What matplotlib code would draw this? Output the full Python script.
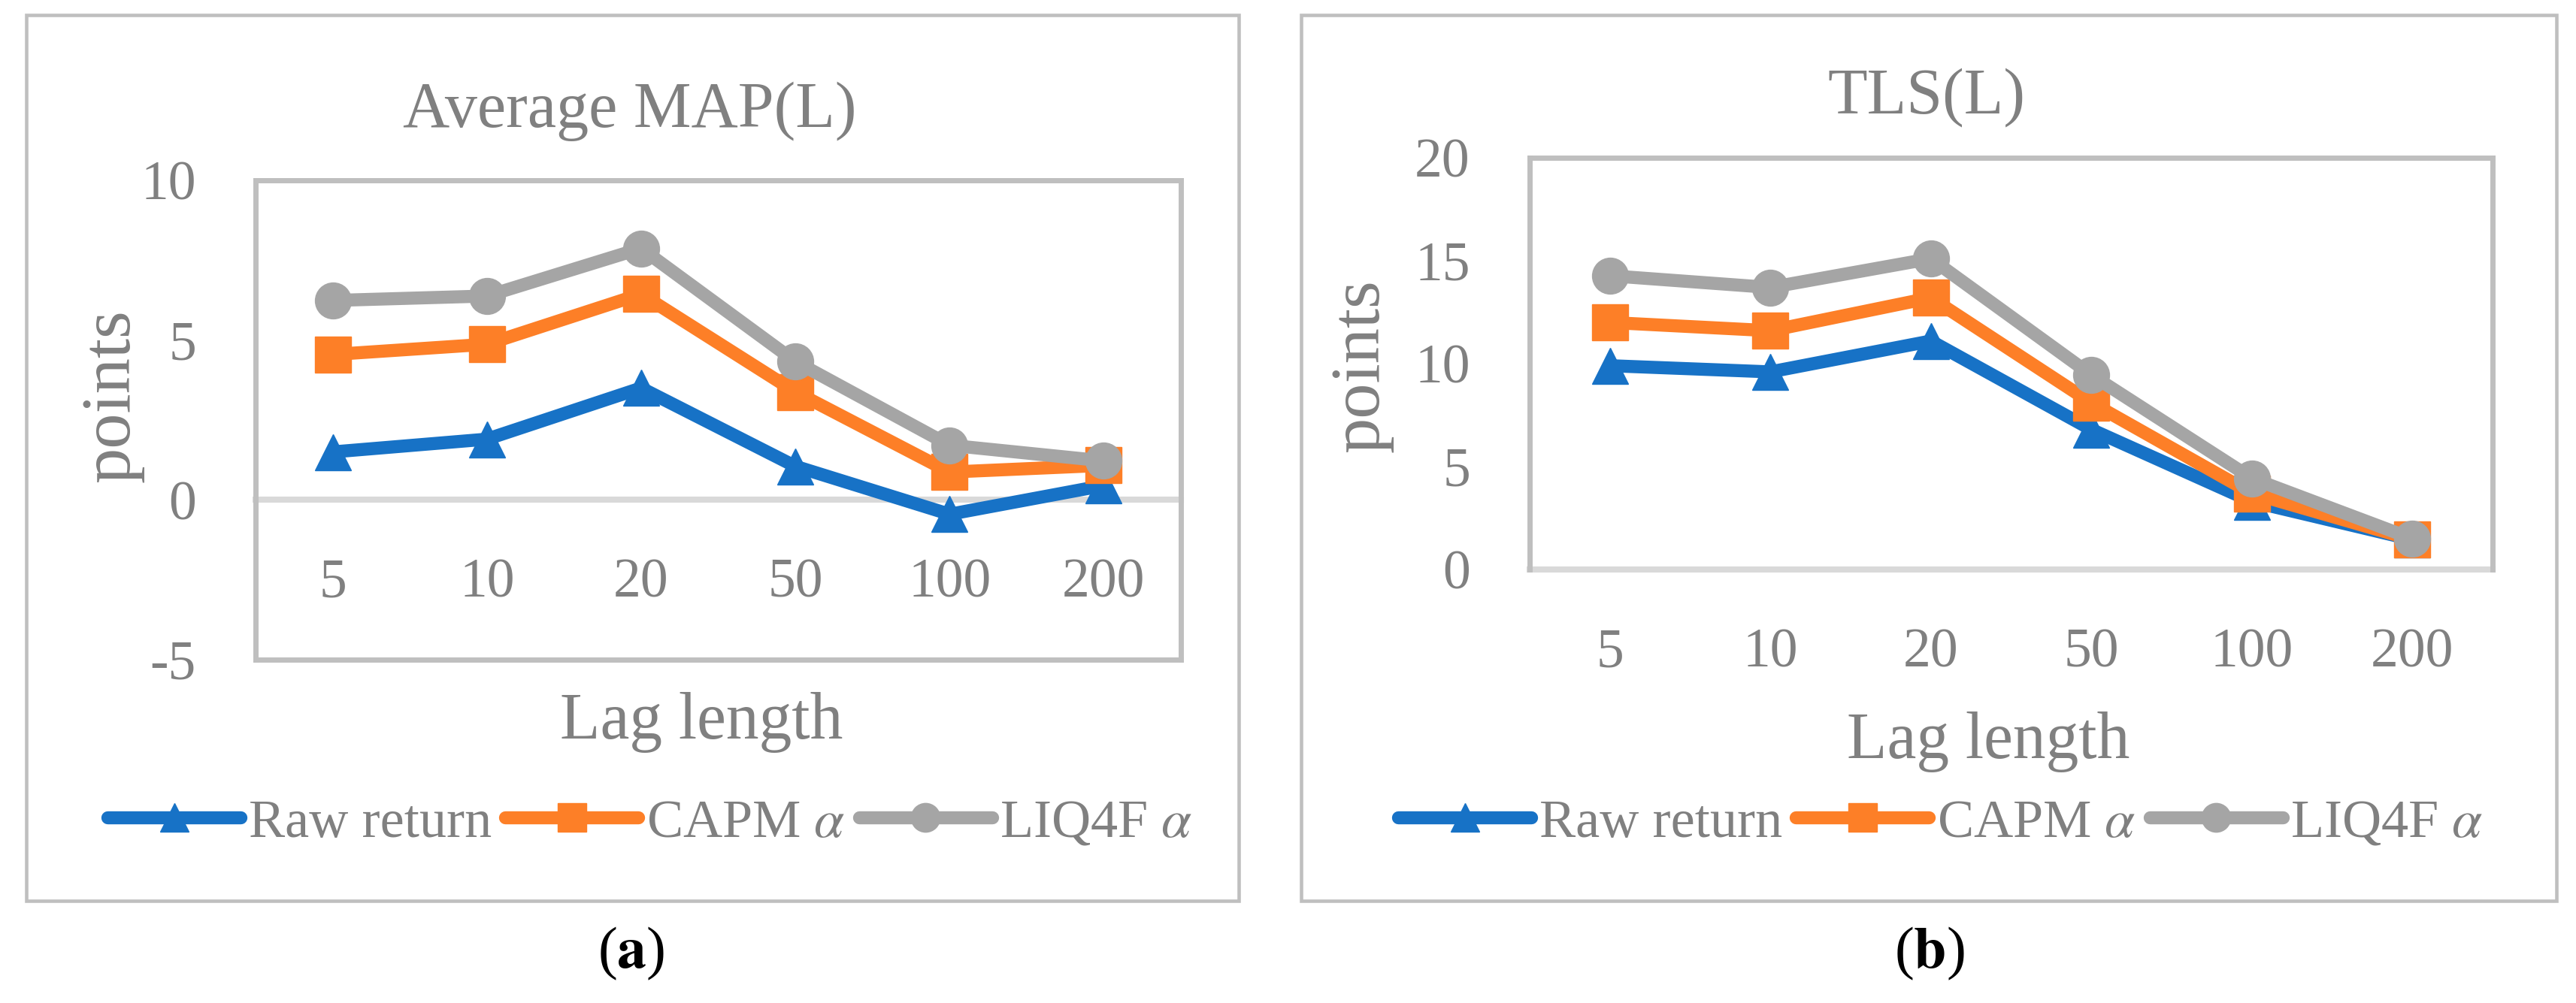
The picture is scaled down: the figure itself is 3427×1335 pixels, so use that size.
import matplotlib
matplotlib.use('Agg')
import matplotlib.pyplot as plt
from matplotlib.patches import Rectangle

lags = ['5', '10', '20', '50', '100', '200']
series_names = ['Raw return', r'CAPM $\alpha$', r'LIQ4F $\alpha$']
series_colors = ['#1772C6', '#FD7F27', '#A5A5A5']
series_markers = ['^', 's', 'o']

# panel (a): Average MAP(L)
map_raw = [1.5, 1.9, 3.5, 1.05, -0.45, 0.45]
map_capm = [4.55, 4.87, 6.44, 3.38, 0.87, 1.08]
map_liq4f = [6.24, 6.38, 7.87, 4.33, 1.71, 1.22]
map_yticks = [-5, 0, 5, 10]

# panel (b): TLS(L)
tls_raw = [9.9, 9.6, 11.1, 6.8, 3.3, 1.45]
tls_capm = [12.0, 11.6, 13.2, 8.1, 3.7, 1.45]
tls_liq4f = [14.27, 13.7, 15.1, 9.45, 4.43, 1.5]
tls_yticks = [0, 5, 10, 15, 20]

W, H = 3427, 1335
TXT = '#808080'
BOX = '#BFBFBF'
AXIS = '#D9D9D9'

plt.rcParams['font.family'] = ['Liberation Serif', 'DejaVu Serif']
plt.rcParams['mathtext.fontset'] = 'stix'

fig = plt.figure(figsize=(W / 100, H / 100), dpi=100)


def fx(x):
    return x / W


def fy(y):
    return 1 - y / H


def panel(box, frame, data, yticks, title, title_xy, xlab_xy, ylab_xy, leg_xy, cap, cap_xy):
    x0, y0, x1, y1 = box
    ax = fig.add_axes([fx(x0), fy(y1), (x1 - x0) / W, (y1 - y0) / H])
    # outer chart frame
    fx0, fy0, fx1, fy1 = frame
    fig.patches.append(Rectangle((fx(fx0), fy(fy1)), (fx1 - fx0) / W, (fy1 - fy0) / H,
                                 transform=fig.transFigure, fill=False,
                                 edgecolor=BOX, linewidth=3.3))
    xs = range(len(lags))
    handles = []
    for vals, name, c, m in zip(data, series_names, series_colors, series_markers):
        h, = ax.plot(xs, vals, color=c, lw=12.5, marker=m, markersize=34.5,
                     solid_joinstyle='round', solid_capstyle='round', label=name,
                     clip_on=False)
        handles.append(h)
    ax.set_xlim(-0.5, len(lags) - 0.5)
    ax.set_ylim(yticks[0], yticks[-1])
    ax.set_xticks(list(xs))
    ax.set_xticklabels(lags)
    ax.set_yticks(yticks)
    ax.set_yticklabels([str(v) for v in yticks])
    ax.tick_params(length=0, labelsize=53, labelcolor=TXT)
    ax.tick_params(axis='x', pad=56)
    ax.tick_params(axis='y', pad=57)
    for s in ['top', 'left', 'right']:
        ax.spines[s].set_color(BOX)
        ax.spines[s].set_linewidth(5)
    ax.spines['bottom'].set_color(AXIS)
    ax.spines['bottom'].set_linewidth(5.8)
    if yticks[0] < 0:
        ax.spines['bottom'].set_position(('data', 0))
        ax.axhline(yticks[0], color=BOX, lw=5, clip_on=False)
    ax.spines['bottom'].set_zorder(1)

    fig.text(fx(title_xy[0]), fy(title_xy[1]), title, fontsize=62, color=TXT,
             ha='center', va='center')
    fig.text(fx(xlab_xy[0]), fy(xlab_xy[1]), 'Lag length', fontsize=63, color=TXT,
             ha='center', va='center')
    fig.text(fx(ylab_xy[0]), fy(ylab_xy[1]), 'points', fontsize=68, color=TXT,
             ha='center', va='center', rotation=90)
    ax.legend(handles=handles, loc='center', bbox_to_anchor=(fx(leg_xy[0]), fy(leg_xy[1])),
              bbox_transform=fig.transFigure, ncol=3, frameon=False, fontsize=52,
              handlelength=2.45, handletextpad=0.15, columnspacing=0.25,
              markerscale=0.8, labelcolor=TXT)
    fig.text(fx(cap_xy[0]), fy(cap_xy[1]), cap, fontsize=56, color='black',
             ha='center', va='center')
    return ax


panel((340, 240, 1571, 878), (35, 20, 1648, 1199),
      [map_raw, map_capm, map_liq4f], map_yticks, 'Average MAP(L)',
      (838, 148), (933, 961), (149, 527), (865, 1096), r'($\mathbf{a}$)', (840, 1269))

panel((2035, 210, 3316, 758), (1731, 20, 3401, 1199),
      [tls_raw, tls_capm, tls_liq4f], tls_yticks, 'TLS(L)',
      (2563, 130), (2645, 988), (1811, 487), (2582, 1096), r'($\mathbf{b}$)', (2567, 1269))

fig.savefig('out.png', dpi=100)
